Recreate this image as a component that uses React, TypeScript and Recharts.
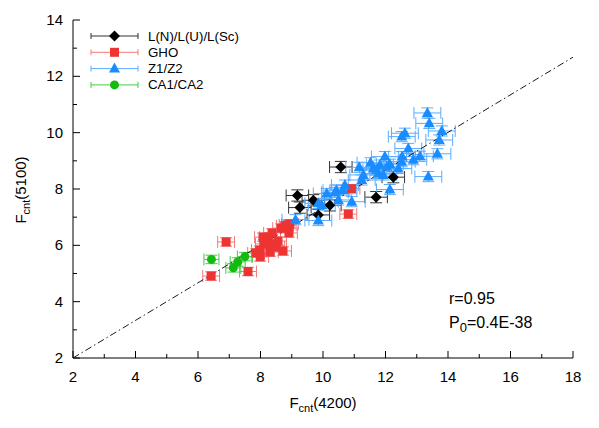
import React from "react";
import { ScatterChart, Scatter, XAxis, YAxis, ErrorBar, ReferenceLine } from "recharts";

// values: [Fcnt(4200), Fcnt(5100)]
const lnData: [number, number][] = [
  [10.57, 8.78], [9.18, 7.77], [9.26, 7.34], [9.69, 7.6],
  [9.85, 7.08], [10.22, 7.42], [11.7, 7.71], [12.25, 8.42],
];

const ghoData: [number, number][] = [
  [6.42, 4.91], [6.9, 6.12], [7.6, 5.07], [7.86, 5.73], [7.98, 5.83],
  [8.11, 6.05], [8.08, 6.29], [8.24, 6.29], [8.37, 6.44], [8.3, 6.05],
  [8.3, 5.76], [8.5, 5.94], [8.56, 6.15], [8.66, 6.61], [8.78, 6.69],
  [8.94, 6.76], [8.91, 6.44], [8.72, 5.8], [8.87, 6.72], [7.99, 5.59],
  [10.81, 7.11], [10.91, 8.01],
];

const zData: [number, number][] = [
  [13.34, 10.7], [13.4, 10.33], [13.8, 10.06], [13.72, 9.74], [12.62, 9.98],
  [12.52, 9.86], [12.73, 9.44], [13.66, 9.25], [13.1, 9.16], [12.89, 9.04],
  [12.53, 9.15], [11.98, 9.15], [12.14, 8.88], [13.37, 8.44], [12.14, 7.98],
  [11.52, 8.93], [11.16, 8.77], [11.82, 8.85], [11.71, 8.68], [11.29, 8.5],
  [11.93, 8.5], [11.61, 8.73], [12.04, 8.79], [11.77, 8.55], [12.41, 8.73],
  [12.52, 8.97], [11.24, 8.32], [10.7, 8.14], [10.43, 7.96], [10.49, 7.61],
  [10.92, 7.55], [9.85, 7.49], [9.96, 7.43], [9.85, 6.88], [9.12, 6.91],
  [10.12, 7.84], [10.65, 7.96], [10.38, 7.88],
];

const caData: [number, number][] = [
  [6.43, 5.5], [7.13, 5.2], [7.27, 5.41], [7.5, 5.6],
];

// dash-dot fit line endpoints
const fitLine = [
  { x: 2, y: 2 },
  { x: 18, y: 12.68 },
];

const xTicks = [2, 3, 4, 5, 6, 7, 8, 9, 10, 11, 12, 13, 14, 15, 16, 17, 18];
const yTicks = [2, 3, 4, 5, 6, 7, 8, 9, 10, 11, 12, 13, 14];

const FONT = "'Liberation Sans', Arial, sans-serif";

type Kind = "diamond" | "square" | "triangle" | "circle";

const series = [
  { name: "L(N)/L(U)/L(Sc)", data: lnData, kind: "diamond" as Kind, color: "#000000", err: "#333333", ex: 0.36, ey: 0.2 },
  { name: "GHO", data: ghoData, kind: "square" as Kind, color: "#ee3333", err: "#f07a7a", ex: 0.27, ey: 0.15 },
  { name: "Z1/Z2", data: zData, kind: "triangle" as Kind, color: "#1a8cff", err: "#5aacff", ex: 0.43, ey: 0.18 },
  { name: "CA1/CA2", data: caData, kind: "circle" as Kind, color: "#11bb11", err: "#44cc44", ex: 0.24, ey: 0.15 },
];

function Marker({ kind, cx, cy, color }: { kind: Kind; cx: number; cy: number; color: string }) {
  if (kind === "diamond")
    return <polygon points={`${cx},${cy - 5.5} ${cx + 5.5},${cy} ${cx},${cy + 5.5} ${cx - 5.5},${cy}`} fill={color} />;
  if (kind === "square") return <rect x={cx - 4.5} y={cy - 4.5} width={9} height={9} fill={color} />;
  if (kind === "triangle")
    return <polygon points={`${cx},${cy - 6} ${cx + 5.5},${cy + 4} ${cx - 5.5},${cy + 4}`} fill={color} />;
  return <circle cx={cx} cy={cy} r={4.5} fill={color} />;
}

const BottomTick = (props: any) => {
  const { x, y, payload } = props;
  const major = payload.value % 2 === 0;
  return (
    <g>
      <line x1={x} x2={x} y1={y} y2={y - (major ? 7 : 4)} stroke="#000" />
      {major && (
        <text x={x} y={y + 24} textAnchor="middle" fontSize={15} fontFamily={FONT} fill="#000">
          {payload.value}
        </text>
      )}
    </g>
  );
};

const TopTick = (props: any) => {
  const { x, y, payload } = props;
  const major = payload.value % 2 === 0;
  return <line x1={x} x2={x} y1={y} y2={y + (major ? 7 : 4)} stroke="#000" />;
};

const LeftTick = (props: any) => {
  const { x, y, payload } = props;
  const major = payload.value % 2 === 0;
  return (
    <g>
      <line x1={x} x2={x + (major ? 7 : 4)} y1={y} y2={y} stroke="#000" />
      {major && (
        <text x={x - 10} y={y + 5} textAnchor="end" fontSize={15} fontFamily={FONT} fill="#000">
          {payload.value}
        </text>
      )}
    </g>
  );
};

const RightTick = (props: any) => {
  const { x, y, payload } = props;
  const major = payload.value % 2 === 0;
  return <line x1={x} x2={x - (major ? 7 : 4)} y1={y} y2={y} stroke="#000" />;
};

function LegendBox() {
  return (
    <svg width={200} height={80} style={{ position: "absolute", left: 80, top: 26 }}>
      {series.map((s, i) => {
        const cy = 10 + i * 16.3;
        return (
          <g key={s.name}>
            <line x1={11} x2={58} y1={cy} y2={cy} stroke={s.err} strokeWidth={1} />
            <line x1={11} x2={11} y1={cy - 3} y2={cy + 3} stroke={s.err} />
            <line x1={58} x2={58} y1={cy - 3} y2={cy + 3} stroke={s.err} />
            <Marker kind={s.kind} cx={34.5} cy={cy} color={s.color} />
            <text x={68} y={cy + 4.5} fontSize={13.3} fontFamily={FONT} fill="#000">
              {s.name}
            </text>
          </g>
        );
      })}
    </svg>
  );
}

export default function App() {
  return (
    <div style={{ position: "absolute", left: 0, top: 0, width: 599, height: 428, background: "#fff", fontFamily: FONT }}>
      <ScatterChart width={599} height={428} margin={{ top: 20, right: 26, bottom: 30, left: 23 }}>
        <XAxis
          type="number"
          dataKey="x"
          domain={[2, 18]}
          ticks={xTicks}
          interval={0}
          allowDataOverflow
          height={40}
          tickSize={0}
          tickMargin={0}
          tickLine={false}
          tick={BottomTick}
          axisLine={{ stroke: "#000" }}
        />
        <XAxis
          xAxisId="top"
          orientation="top"
          type="number"
          dataKey="x"
          domain={[2, 18]}
          ticks={xTicks}
          interval={0}
          allowDataOverflow
          height={0}
          tickSize={0}
          tickMargin={0}
          tickLine={false}
          tick={TopTick}
          axisLine={{ stroke: "#000" }}
        />
        <YAxis
          type="number"
          dataKey="y"
          domain={[2, 14]}
          ticks={yTicks}
          interval={0}
          allowDataOverflow
          width={50}
          tickSize={0}
          tickMargin={0}
          tickLine={false}
          tick={LeftTick}
          axisLine={{ stroke: "#000" }}
        />
        <YAxis
          yAxisId="right"
          orientation="right"
          type="number"
          dataKey="y"
          domain={[2, 14]}
          ticks={yTicks}
          interval={0}
          allowDataOverflow
          width={0}
          tickSize={0}
          tickMargin={0}
          tickLine={false}
          tick={RightTick}
          axisLine={{ stroke: "#000" }}
        />
        {series.map((s) => (
          <Scatter
            key={s.name}
            name={s.name}
            data={s.data.map(([x, y]) => ({ x, y, ex: s.ex, ey: s.ey }))}
            isAnimationActive={false}
            shape={(p: any) => <Marker kind={s.kind} cx={p.cx} cy={p.cy} color={s.color} />}
          >
            <ErrorBar dataKey="ex" direction="x" width={6} stroke={s.err} strokeWidth={1} isAnimationActive={false} />
            <ErrorBar dataKey="ey" direction="y" width={6} stroke={s.err} strokeWidth={1} isAnimationActive={false} />
          </Scatter>
        ))}
        <ReferenceLine
          segment={fitLine}
          stroke="#000"
          strokeWidth={0.9}
          strokeDasharray="7 3 1.5 3"
          ifOverflow="hidden"
        />
      </ScatterChart>
      <LegendBox />
      <div style={{ position: "absolute", left: 0, width: 646, top: 394, textAlign: "center", fontSize: 15 }}>
        F<sub style={{ fontSize: 11 }}>cnt</sub>(4200)
      </div>
      <div
        style={{
          position: "absolute",
          left: 22,
          top: 190,
          transform: "translate(-50%, -50%) rotate(-90deg)",
          whiteSpace: "nowrap",
          fontSize: 15,
        }}
      >
        F<sub style={{ fontSize: 11 }}>cnt</sub>(5100)
      </div>
      <div style={{ position: "absolute", left: 449, top: 287, fontSize: 16, lineHeight: "24px" }}>
        r=0.95
        <br />
        P<sub style={{ fontSize: 13 }}>0</sub>=0.4E-38
      </div>
    </div>
  );
}
